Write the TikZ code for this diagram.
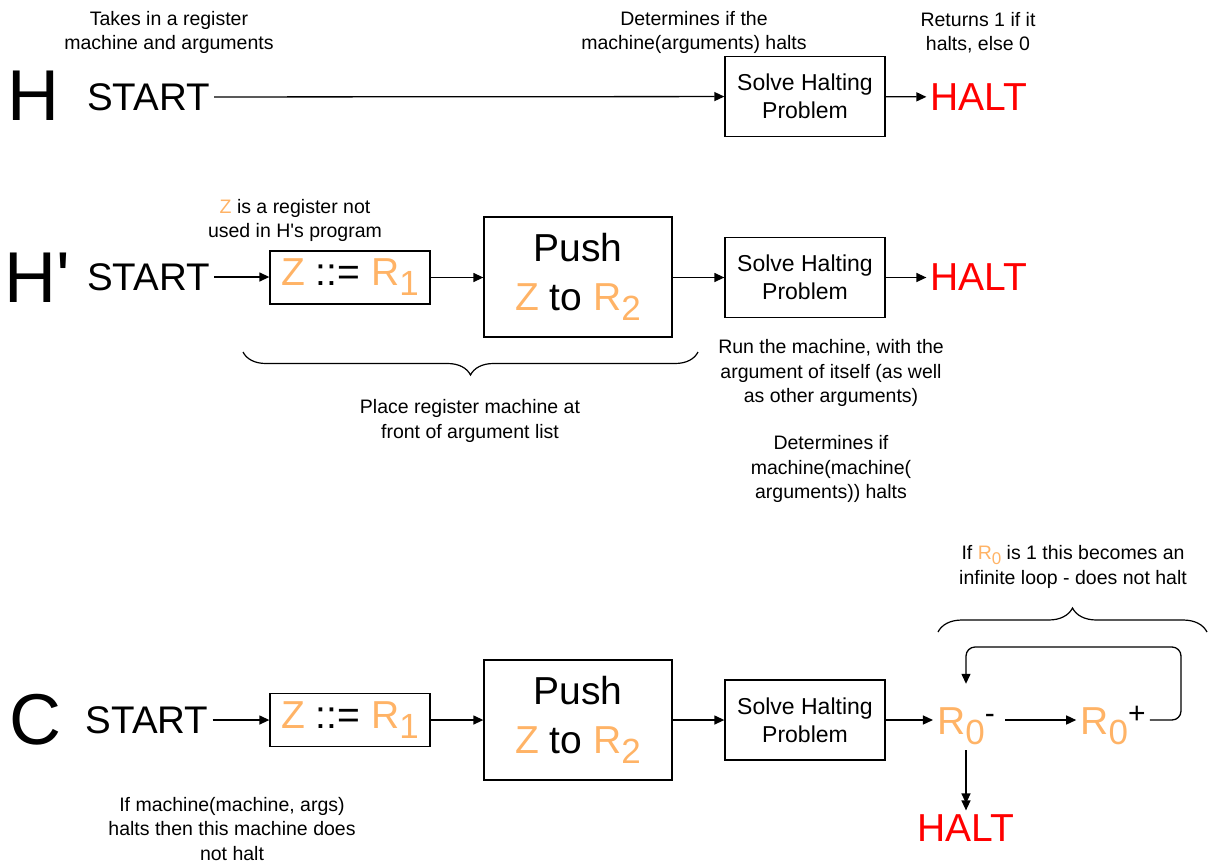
\documentclass[tikz,border=0pt]{standalone}
\usepackage{fontspec}
\setmainfont{Liberation Sans}
\usetikzlibrary{arrows.meta,decorations.pathreplacing}
\definecolor{regorange}{HTML}{FFB366}
\definecolor{haltred}{HTML}{FF0000}
% register names are printed in orange
\newcommand{\reg}[1]{\textcolor{regorange}{#1}}
\newcommand{\lowidx}[1]{\raisebox{-0.26em}{\fontsize{35}{35}\selectfont #1}}
\newcommand{\highidx}[1]{\raisebox{11pt}{\fontsize{30}{30}\selectfont #1}}
\newcommand{\smallidx}[1]{\raisebox{-0.22em}{\fontsize{17}{17}\selectfont #1}}
\begin{document}
\begin{tikzpicture}[x=1pt,y=-1pt,
  note/.style={font=\fontsize{19.5}{24.5}\selectfont, align=center, inner sep=0},
  word/.style={font=\fontsize{38.5}{38.5}\selectfont, inner sep=4pt},
  title/.style={font=\fontsize{72}{72}\selectfont, inner sep=0},
  halt/.style={font=\fontsize{39}{39}\selectfont, inner sep=4pt, text=haltred},
  box/.style={draw, line width=1.3pt, align=center, inner sep=0},
  solvebox/.style={box, minimum width=160pt, minimum height=80pt, font=\fontsize{23}{28}\selectfont},
  assignbox/.style={box, minimum width=160pt, minimum height=53pt, font=\fontsize{39}{39}\selectfont},
  pushbox/.style={box, minimum width=188pt, minimum height=120pt, font=\fontsize{39}{49}\selectfont},
  regnode/.style={font=\fontsize{39}{39}\selectfont, inner sep=4pt, text height=28pt, text depth=12pt},
  flow/.style={line width=1.3pt, -{Triangle[length=10pt,width=9pt]}},
  twoheads/.style={line width=1.3pt, -{Triangle[length=10pt,width=9pt,sep=-3pt]Triangle[length=10pt,width=9pt]}},
  curly/.style={line width=1.2pt, decorate, decoration={brace, amplitude=#1}}
]
\useasboundingbox (0,0) rectangle (1208,863);

% ---- H ----
\node[title] (Hname) at (33.5,96) {H};
\node[word] (Hstart) at (148.5,97) {START};
\node[solvebox] (Hsolve) at (805,96.5) {Solve Halting\\Problem};
\node[halt] (Hhalt) at (979,97) {HALT};
\draw[flow] (Hstart) -- (Hsolve);
\draw[flow] (Hsolve) -- (Hhalt);
\node[note] (Hnote1) at (169,32.5) {Takes in a register\\machine and arguments};
\node[note] (Hnote2) at (694,32.5) {Determines if the\\machine(arguments) halts};
\node[note] (Hnote3) at (978,32.5) {Returns 1 if it\\halts, else 0};

% ---- H' ----
\node[title] (Pname) at (37,277.5) {H\textquotesingle};
\node[word] (Pstart) at (148.5,277) {START};
\node[assignbox] (Passign) at (350,277.5) {\reg{Z} ::= \reg{R\lowidx{1}}};
\node[pushbox] (Ppush) at (578,277) {Push\\\reg{Z} to \reg{R\lowidx{2}}};
\node[solvebox] (Psolve) at (805,277.5) {Solve Halting\\Problem};
\node[halt] (Phalt) at (979,277) {HALT};
\draw[flow] (Pstart) -- (Pstart -| Passign.west);
\draw[flow] (Passign) -- (Passign -| Ppush.west);
\draw[flow] (Ppush.east |- Psolve) -- (Psolve);
\draw[flow] (Psolve) -- (Psolve -| Phalt.west);
\node[note] (Pnote1) at (295,220.5) {\reg{Z} is a register not\\used in H\textquotesingle s program};
\draw[curly=23pt] (698,352) -- (243,352);
\node[note] (Pnote2) at (470,421) {Place register machine at\\front of argument list};
\node[note] (Pnote3) at (831,373) {Run the machine, with the\\argument of itself (as well\\as other arguments)};
\node[note] (Pnote4) at (831,469) {Determines if\\machine(machine(\\arguments)) halts};

% ---- C ----
\node[title] (Cname) at (35,720) {C};
\node[word] (Cstart) at (147,720) {START};
\node[assignbox] (Cassign) at (350,720) {\reg{Z} ::= \reg{R\lowidx{1}}};
\node[pushbox] (Cpush) at (578,720) {Push\\\reg{Z} to \reg{R\lowidx{2}}};
\node[solvebox] (Csolve) at (805,720) {Solve Halting\\Problem};
\node[regnode] (Rdec) at (966,726) {\reg{R\lowidx{0}}\highidx{-}};
\node[regnode] (Rinc) at (1113,726) {\reg{R\lowidx{0}}\highidx{+}};
\node[halt] (Chalt) at (966,828) {HALT};
\coordinate (loopcorner) at (1181,647);
\draw[flow] (Cstart) -- (Cstart -| Cassign.west);
\draw[flow] (Cassign) -- (Cassign -| Cpush.west);
\draw[flow] (Cpush.east |- Csolve) -- (Csolve);
\draw[flow] (Csolve) -- (Csolve -| Rdec.west);
\draw[flow, shorten <=6pt] (Csolve -| Rdec.east) -- (Csolve -| Rinc.west);
\draw[flow, rounded corners=9pt, shorten >=18pt] (Csolve -| Rinc.east) -| (loopcorner) -| (Rdec.north);
\draw[twoheads] (Rdec.south) -- (Chalt.north);
\draw[curly=24pt] (938,632) -- (1207,632);
\node[note] (Cnote1) at (1073,567) {If \reg{R\smallidx{0}} is 1 this becomes an\\infinite loop - does not halt};
\node[note] (Cnote2) at (232,829) {If machine(machine, args)\\halts then this machine does\\not halt};
\end{tikzpicture}
\end{document}
